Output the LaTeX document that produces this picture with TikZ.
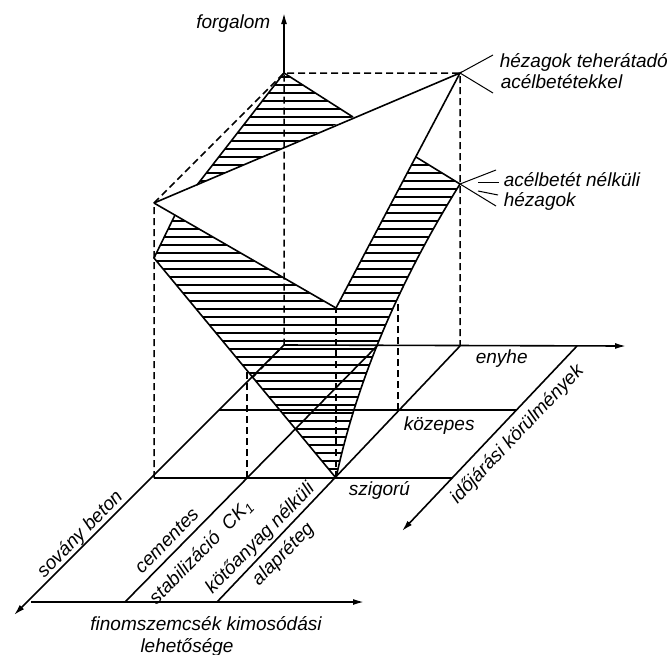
\documentclass[tikz,border=0pt]{standalone}
\usepackage{fontspec}
\setmainfont{Liberation Sans}
\usetikzlibrary{arrows.meta}
\newcommand{\lblFont}{\fontsize{19}{22}\selectfont\itshape}

\begin{document}
\begin{tikzpicture}[x=1pt,y=-1pt,line width=1.6pt,
  every node/.style={font=\lblFont,inner sep=0pt},
  hidden/.style={line width=1.5pt,dash pattern=on 7pt off 4pt},
  hatchline/.style={line width=1.1pt},
  leader/.style={line width=1pt},
  axisarrow/.style={-{Latex[length=11pt,width=6pt]}}]
\useasboundingbox (0,0) rectangle (671,654);
\coordinate (o) at (284,345);
\coordinate (d1end) at (14,615);
\coordinate (d1q) at (219,410);
\coordinate (d1s) at (154,478);
\coordinate (d1cut) at (253,377);
\coordinate (d1b) at (31,602);
\coordinate (d2b) at (125,602);
\coordinate (d2s) at (247,478);
\coordinate (d2cut) at (247,372);
\coordinate (d2e) at (377,346);
\coordinate (d3b) at (217,602);
\coordinate (d3s) at (336,478);
\coordinate (d3q) at (398,410);
\coordinate (d3qtop) at (398,300);
\coordinate (d3e) at (460,346);
\coordinate (bend) at (364,602);
\coordinate (eend) at (626,346);
\coordinate (wtop) at (577,346);
\coordinate (wend) at (402,531);
\coordinate (wq) at (516,410);
\coordinate (ws) at (452,478);
\coordinate (ytop) at (284,13);
\coordinate (t0) at (284,73);
\coordinate (t3) at (460,73);
\coordinate (lp) at (154,203);
\coordinate (lq) at (154,258);
\coordinate (la) at (175,215);
\coordinate (u1) at (197,185);
\coordinate (u2) at (353,117);
\coordinate (vb) at (336,308);
\coordinate (rk) at (416,157);
\coordinate (r) at (460,184);

\begin{scope}
\clip (t0) -- (u1) -- (u2) -- cycle;
\foreach \hy in {77,85,...,477} \draw[hatchline] (140,\hy) -- (480,\hy);
\end{scope}
\begin{scope}
\clip (la) -- (lq) -- (d3s) .. controls (357,380) and (399,282) .. (r) -- (rk) -- (vb) -- cycle;
\foreach \hy in {77,85,...,477} \draw[hatchline] (140,\hy) -- (480,\hy);
\end{scope}

\draw[axisarrow] (o) -- (d1end);
\draw[axisarrow] (d1b) -- (bend);
\draw (d2b) -- (d2e);
\draw (d3b) -- (d3e);
\draw[axisarrow] (o) -- (eend);
\draw[axisarrow] (wtop) -- (wend);
\draw (d1q) -- (wq);
\draw (d1s) -- (ws);

\draw[hidden] (d1cut) -- (o) -- (t0);
\draw[axisarrow] (t0) -- (ytop);
\draw[hidden] (d1s) -- (lp) -- (t0) -- (t3) -- (d3e);
\draw[hidden] (d2s) -- (d2cut);
\draw[hidden] (d3s) -- (vb);
\draw[hidden] (d3q) -- (d3qtop);

\draw (lp) -- (t3) -- (vb) -- (lp);
\draw (u1) -- (t0) -- (u2);
\draw (la) -- (lq) -- (d3s);
\draw (rk) -- (r);
\draw (r) .. controls (399,282) and (357,380) .. (d3s);

\draw[leader] (t3) -- (493,55);
\draw[leader] (t3) -- (493,93);
\draw[leader] (r) -- (496,170);
\draw[leader] (478,182) -- (499,182);
\draw[leader] (478,191) -- (498,195);
\draw[leader] (r) -- (496,206);

\node[anchor=base east] (forgalom) at (271,28) {forgalom};
\node[anchor=base west] (dowel1) at (499,67) {hézagok teherátadó};
\node[anchor=base west] (dowel2) at (500,88) {acélbetétekkel};
\node[anchor=base west] (nodowel1) at (503,186) {acélbetét nélküli};
\node[anchor=base west] (nodowel2) at (503,206) {hézagok};
\node[anchor=base west] (enyhe) at (475,363) {enyhe};
\node[anchor=base west] (kozepes) at (403,430) {közepes};
\node[anchor=base west] (szigoru) at (348,495) {szigorú};
\node[anchor=base] (fines1) at (206,630) {finomszemcsék kimosódási};
\node[anchor=base] (fines2) at (187,652) {lehetősége};
\node[anchor=base,rotate=45.5] (sovany) at (84,538) {sovány beton};
\node[anchor=base,rotate=45.5] (cem1) at (171,545) {cementes};
\node[anchor=base,rotate=45.5] (cem2) at (205,556) {stabilizáció\ \ CK\textsubscript{1}};
\node[anchor=base,rotate=45.5] (kot1) at (264,542) {kötőanyag nélküli};
\node[anchor=base,rotate=45.5] (kot2) at (287,558) {alapréteg};
\node[anchor=base,rotate=46.4] (idojaras) at (521,438) {időjárási körülmények};
\end{tikzpicture}
\end{document}
